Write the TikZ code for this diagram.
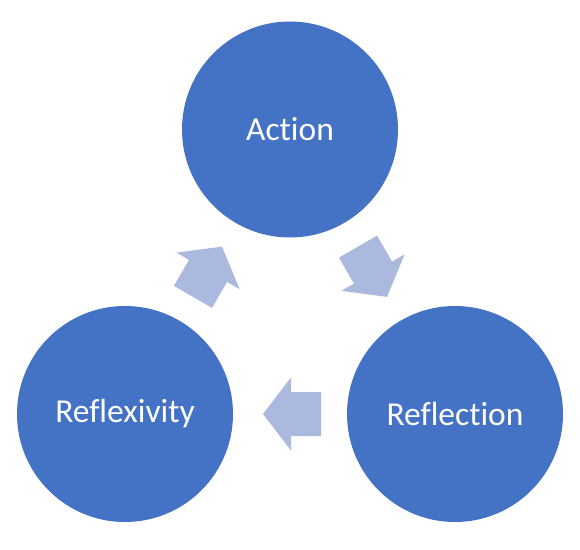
\documentclass[tikz,border=0pt]{standalone}
\usepackage{fontspec}
\setmainfont[Ligatures=NoCommon]{Carlito}
\usetikzlibrary{calc}
\definecolor{circblue}{RGB}{68,114,196}
\definecolor{arrblue}{RGB}{171,185,222}
\tikzset{
  circ/.style={circle, fill=circblue, draw=none, minimum size=216pt, inner sep=0pt,
    text=white, font=\fontsize{33.5pt}{36pt}\selectfont},
  blockarr/.pic={
    \fill[arrblue] (29pt,0pt) -- (1pt,36.5pt) -- (1pt,22pt) -- (-29pt,22pt)
      -- (-29pt,-22pt) -- (1pt,-22pt) -- (1pt,-36.5pt) -- cycle;
  }
}
\begin{document}
\begin{tikzpicture}[x=1pt,y=1pt]
\useasboundingbox[fill=white] (0,0) rectangle (580,549);
\node[circ] (act) at (290,419.5) {Action};
\node[circ] (rflx) at (125,135) {Reflexivity};
\node[circ] (rfln) at (455,135) {Reflection};
\pic[rotate=60] at ($(rflx)!0.5!(act)$) {blockarr};
\pic[rotate=-60] at ($(act)!0.5!(rfln)$) {blockarr};
\pic[rotate=180] at ($(rfln)!0.5!(rflx)+(2,0)$) {blockarr};
\end{tikzpicture}
\end{document}
